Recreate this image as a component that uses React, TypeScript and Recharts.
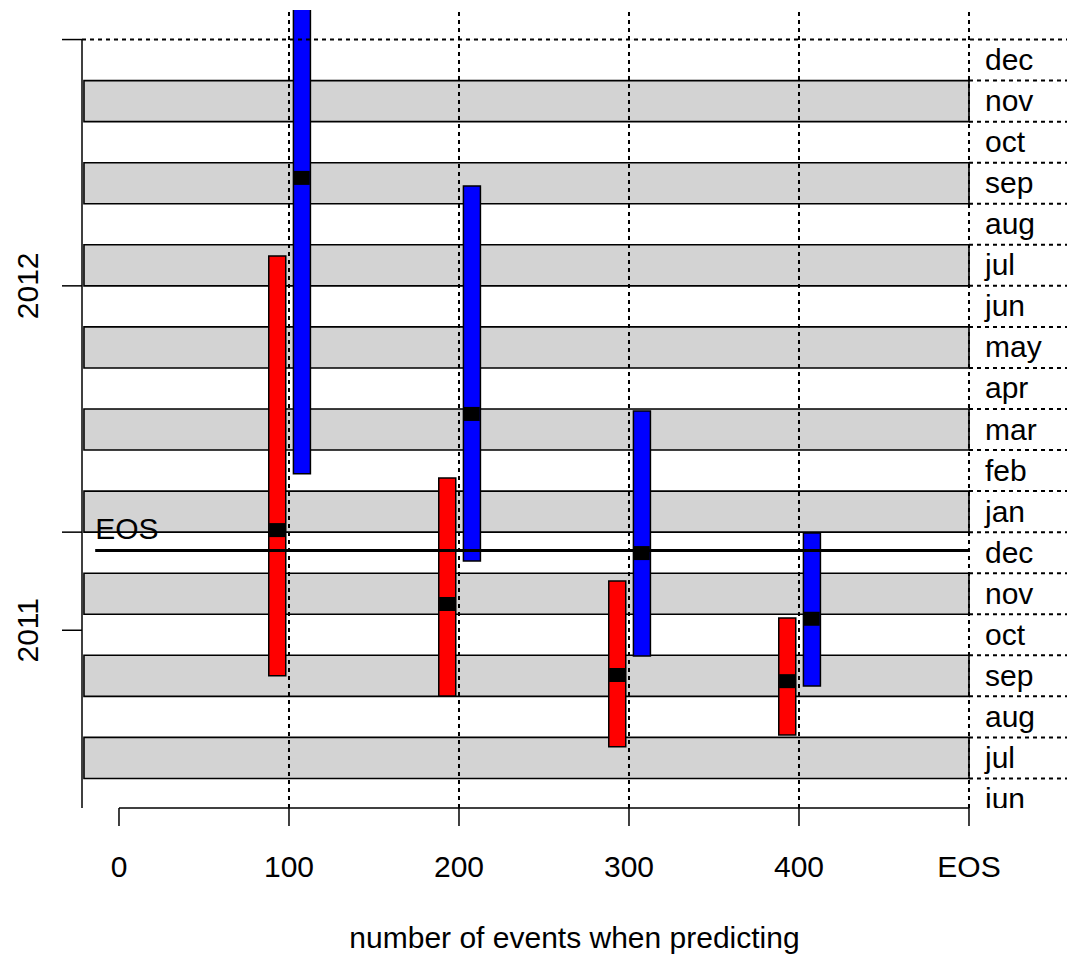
import React from "react";
import {
  ComposedChart,
  XAxis,
  YAxis,
  Bar,
  Scatter,
  Cell,
  ReferenceArea,
  ReferenceLine,
} from "recharts";

// y values are months counted from 1 Jan 2011 (0 = start of jan 2011)
const EVENTS = [100, 200, 300, 400];
const RED_LOW = [8.5, 8.01, 6.77, 7.06];
const RED_HIGH = [18.73, 13.32, 10.81, 9.91];
const RED_MEDIAN = [12.05, 10.25, 8.52, 8.37];
const BLUE_LOW = [13.42, 11.3, 8.98, 8.25];
const BLUE_HIGH = [25.2, 20.43, 14.95, 11.98];
const BLUE_MEDIAN = [20.63, 14.88, 11.49, 9.89];

const MONTHS = ["iun", "jul", "aug", "sep", "oct", "nov", "dec", "jan", "feb", "mar", "apr", "may", "jun", "jul", "aug", "sep", "oct", "nov", "dec"];
const FIRST_MONTH = 5;
const SHADED_MONTHS = [6, 8, 10, 12, 14, 16, 18, 20, 22];
const EOS_MONTH = 11.55;

const YEAR_TICKS = [9.61, 12, 18, 24];
const YEAR_LABELS = ["2011", "", "2012", ""];
const X_TICKS = [0, 100, 200, 300, 400, 500];
const X_LABELS = ["0", "100", "200", "300", "400", "EOS"];

const X_MIN = -21.76;
const X_MAX = 557.65;
const Y_MIN = 5.28;
const Y_MAX = 24.72;
const EOS_X = 500;
const RED_SHIFT = -7;
const BLUE_SHIFT = 7.5;
const BAND_LEFT = -20.6;
const EOS_LINE_LEFT = -14;
const LABEL_X = 509.4;
const FONT = "'Liberation Sans', Arial, sans-serif";

const rows = EVENTS.flatMap((n, i) => [
  { x: n + RED_SHIFT, range: [RED_LOW[i], RED_HIGH[i]], median: RED_MEDIAN[i] },
  { x: n + BLUE_SHIFT, range: [BLUE_LOW[i], BLUE_HIGH[i]], median: BLUE_MEDIAN[i] },
]);

const monthPoints = MONTHS.map((name, i) => ({ x: LABEL_X, y: FIRST_MONTH + i + 0.5, name }));
const boundaries = MONTHS.map((_, i) => FIRST_MONTH + i + 1).filter((v) => v < 24);

function MedianMark(props: any) {
  const { cx, cy } = props;
  if (cx == null || cy == null) return null;
  return <rect x={cx - 8} y={cy - 7} width={16} height={14} fill="#000" />;
}

function MonthLabel(props: any) {
  const { cx, cy, payload } = props;
  return (
    <text x={cx} y={cy + 10} fontSize={30} fontFamily={FONT} fill="#000" textAnchor="start">
      {payload.name}
    </text>
  );
}

function YearTick(props: any) {
  const { x, y, payload } = props;
  const label = YEAR_LABELS[YEAR_TICKS.indexOf(payload.value)];
  if (!label) return null;
  return (
    <text
      x={x}
      y={y}
      transform={`rotate(-90, ${x}, ${y})`}
      textAnchor="middle"
      fontSize={30}
      fontFamily={FONT}
      fill="#000"
    >
      {label}
    </text>
  );
}

export default function App() {
  return (
    <div style={{ position: "absolute", left: 0, top: 0, background: "#fff" }}>
      <ComposedChart
        width={1067}
        height={957}
        data={rows}
        margin={{ top: 10, right: 0, bottom: 0, left: 0 }}
      >
        <XAxis
          type="number"
          dataKey="x"
          domain={[X_MIN, X_MAX]}
          allowDataOverflow
          ticks={X_TICKS}
          interval={0}
          height={149}
          axisLine={false}
          tickSize={18}
          tickMargin={30}
          tickLine={{ stroke: "#000", strokeWidth: 1.5 }}
          tick={{ fill: "#000", fontSize: 30, fontFamily: FONT }}
          tickFormatter={(v: number) => X_LABELS[X_TICKS.indexOf(v)]}
          label={{
            value: "number of events when predicting",
            position: "insideBottom",
            offset: 9,
            fill: "#000",
            fontSize: 30,
            fontFamily: FONT,
          }}
        />
        <YAxis
          type="number"
          domain={[Y_MIN, Y_MAX]}
          allowDataOverflow
          ticks={YEAR_TICKS}
          interval={0}
          width={82}
          axisLine={false}
          tickSize={20}
          tickMargin={24}
          tickLine={{ stroke: "#000", strokeWidth: 1.5 }}
          tick={<YearTick />}
        />

        {/* dotted month grid: full width on top, right margin for the rest */}
        <ReferenceLine y={24} stroke="#000" strokeWidth={2} strokeDasharray="4 4" ifOverflow="visible" />
        {boundaries.map((v) => (
          <ReferenceLine
            key={`h-${v}`}
            segment={[{ x: EOS_X, y: v }, { x: X_MAX, y: v }]}
            stroke="#000"
            strokeWidth={2}
            strokeDasharray="4 4"
            ifOverflow="visible"
          />
        ))}

        {SHADED_MONTHS.map((v) => (
          <ReferenceArea
            key={`band-${v}`}
            x1={BAND_LEFT}
            x2={EOS_X}
            y1={v}
            y2={v + 1}
            fill="#d3d3d3"
            fillOpacity={1}
            stroke="#000"
            strokeWidth={1.6}
            ifOverflow="visible"
          />
        ))}

        {X_TICKS.slice(1).map((v) => (
          <ReferenceLine key={`v-${v}`} x={v} stroke="#000" strokeWidth={2} strokeDasharray="4 4" />
        ))}

        {/* axis lines drawn only over their tick range, as in base R */}
        <ReferenceLine
          segment={[{ x: X_MIN, y: Y_MIN }, { x: X_MIN, y: 24 }]}
          stroke="#000"
          strokeWidth={1.5}
          ifOverflow="visible"
        />
        <ReferenceLine
          segment={[{ x: 0, y: Y_MIN }, { x: EOS_X, y: Y_MIN }]}
          stroke="#000"
          strokeWidth={1.5}
          ifOverflow="visible"
        />

        <Bar dataKey="range" barSize={17} stroke="#000" strokeWidth={1.5} isAnimationActive={false}>
          {rows.map((_, i) => (
            <Cell key={`c-${i}`} fill={i % 2 === 0 ? "#ff0000" : "#0000ff"} />
          ))}
        </Bar>

        <ReferenceLine
          segment={[{ x: EOS_LINE_LEFT, y: EOS_MONTH }, { x: EOS_X, y: EOS_MONTH }]}
          stroke="#000"
          strokeWidth={3}
          ifOverflow="visible"
          label={(p: any) => (
            <text x={p.viewBox.x} y={p.viewBox.y - 12} fontSize={30} fontFamily={FONT} fill="#000">
              EOS
            </text>
          )}
        />

        <Scatter dataKey="median" shape={MedianMark} isAnimationActive={false} />
        <Scatter data={monthPoints} dataKey="y" shape={MonthLabel} isAnimationActive={false} />
      </ComposedChart>
    </div>
  );
}
